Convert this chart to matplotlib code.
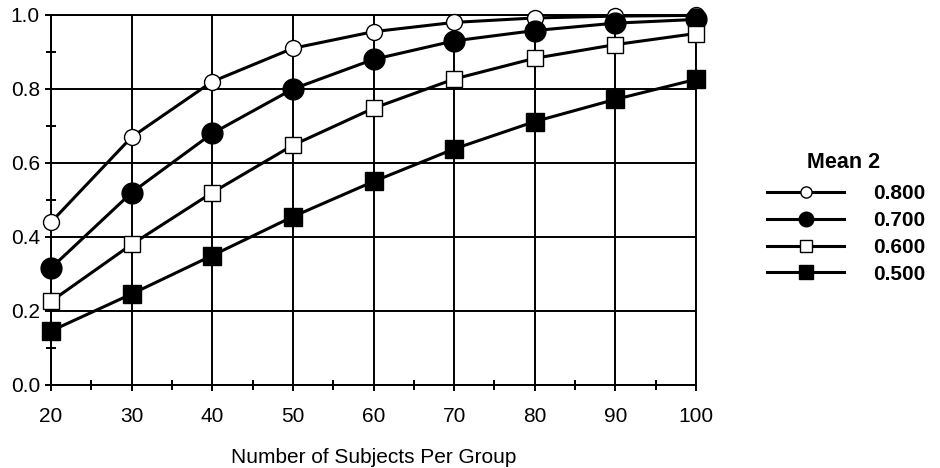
import matplotlib
matplotlib.use("Agg")
import matplotlib.pyplot as plt
from matplotlib.ticker import MultipleLocator

plt.rcParams['font.family'] = ['Liberation Sans', 'DejaVu Sans']

n_subjects = [20, 30, 40, 50, 60, 70, 80, 90, 100]
mean_labels = ["0.800", "0.700", "0.600", "0.500"]
power_080 = [0.44, 0.67, 0.82, 0.91, 0.955, 0.98, 0.992, 0.997, 0.999]
power_070 = [0.316, 0.52, 0.68, 0.80, 0.88, 0.93, 0.958, 0.978, 0.988]
power_060 = [0.226, 0.38, 0.52, 0.648, 0.748, 0.827, 0.883, 0.92, 0.95]
power_050 = [0.146, 0.246, 0.35, 0.455, 0.55, 0.638, 0.712, 0.772, 0.826]

series = [power_080, power_070, power_060, power_050]
styles = [
    dict(marker='o', markersize=11.5, markerfacecolor='white'),
    dict(marker='o', markersize=15, markerfacecolor='black'),
    dict(marker='s', markersize=12, markerfacecolor='white'),
    dict(marker='s', markersize=13.5, markerfacecolor='black'),
]

fig = plt.figure(figsize=(9.4, 4.68), dpi=100)
ax = fig.add_axes([51/940, 83/468, 645/940, 370/468])

for vals, lab, st in zip(series, mean_labels, styles):
    ax.plot(n_subjects, vals, color='black', lw=2.2, markeredgecolor='black',
            markeredgewidth=1.0, label=lab, clip_on=False, zorder=3, **st)

ax.set_xlim(20, 100)
ax.set_ylim(0, 1.0)
ax.xaxis.set_major_locator(MultipleLocator(10))
ax.xaxis.set_minor_locator(MultipleLocator(5))
ax.yaxis.set_major_locator(MultipleLocator(0.2))
ax.yaxis.set_minor_locator(MultipleLocator(0.1))
ax.yaxis.set_major_formatter(plt.FuncFormatter(lambda v, p: f"{v:.1f}"))
ax.grid(True, which='major', color='black', lw=1.4)
for s in ax.spines.values():
    s.set_linewidth(1.4)
ax.tick_params(axis='both', which='major', labelsize=15, width=1.4, length=4, direction='out')
ax.tick_params(axis='both', which='minor', width=1.4, length=7, direction='inout')
ax.tick_params(axis='x', which='major', pad=12)
ax.tick_params(axis='y', which='major', pad=4)
ax.set_xlabel("Number of Subjects Per Group", fontsize=15, labelpad=16)

leg = fig.legend(loc='center left', bbox_to_anchor=(767/940, 1 - 234/468),
                 frameon=False, handlelength=3.7, handletextpad=1.4,
                 labelspacing=0.37, borderpad=0, borderaxespad=0,
                 prop={'weight': 'bold', 'size': 15}, markerscale=0.7)
fig.text(844/940, 1 - 162/468, "Mean 2", ha='center', va='center',
         fontsize=15.5, fontweight='bold')

fig.savefig("out.png", dpi=100)
